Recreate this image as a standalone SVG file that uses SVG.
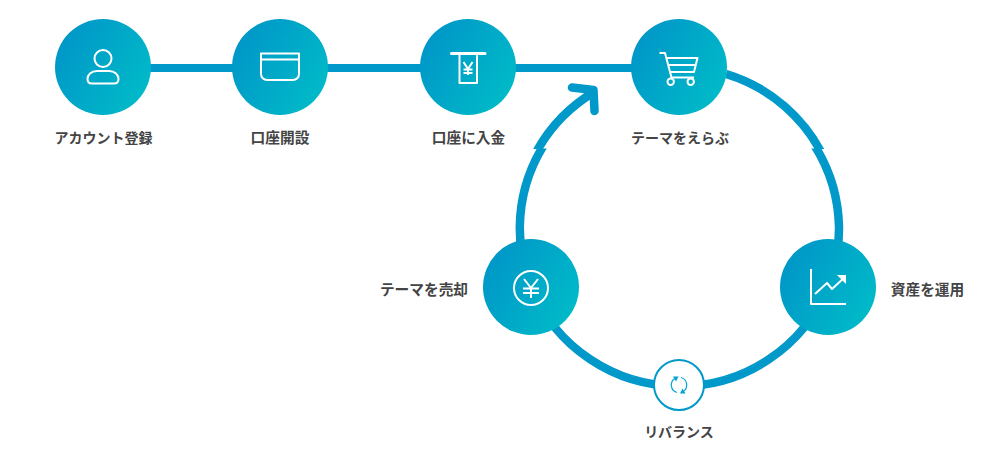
<svg xmlns="http://www.w3.org/2000/svg" width="984" height="450" viewBox="0 0 984 450">
<style>
.c{fill:url(#g)}
.i{fill:none;stroke:#fff;stroke-width:2;stroke-linejoin:round}
.l{fill:none;stroke:#0099c9;stroke-width:8.500}
.t{font-family:"Noto Sans CJK JP","Noto Sans",sans-serif;font-weight:700;font-size:14px;fill:#444;text-anchor:middle}
.w{font-size:14.700px}
</style>
<defs>
<linearGradient id="g" x1="0.08" y1="0.25" x2="0.92" y2="0.75"><stop offset="0" stop-color="#0098c8"/><stop offset="1" stop-color="#00b9c8"/></linearGradient>
<clipPath id="above"><rect x="500" y="60" width="360" height="89"/></clipPath>
<clipPath id="below"><rect x="500" y="148.500" width="360" height="160"/></clipPath>
</defs>
<rect width="984" height="450" fill="#fff"/>
<g id="connectors">
<path d="M103 68H679" fill="none" stroke="#0099c9" stroke-width="8"/>
<path class="l" clip-path="url(#above)" d="M726 74A159.700 159.700 0 0 1 825 160"/>
<path class="l" clip-path="url(#below)" d="M809.500 138A159.700 159.700 0 0 1 839 226.500A159.700 159.700 0 0 1 828 287"/>
<path class="l" d="M828 287A159.700 159.700 0 0 1 679.500 386.200A159.700 159.700 0 0 1 531 287"/>
<path class="l" clip-path="url(#below)" d="M531 287A159.700 159.700 0 0 1 519.800 226.500A159.700 159.700 0 0 1 548.500 138"/>
<path class="l" clip-path="url(#above)" d="M530 165A159.700 159.700 0 0 1 595 91.500"/>
<path d="M572 87.500L593.500 90L594.500 111" fill="none" stroke="#0099c9" stroke-width="8.500" stroke-linecap="round" stroke-linejoin="round"/>
</g>
<g id="n1"><circle class="c" cx="103" cy="67" r="48"/>
<circle class="i" cx="103" cy="58.500" r="8.500"/><path class="i" d="M97 71H109C115 71 118.500 75 118.500 79C118.500 82 116.500 83.500 114 83.500H92C89.500 83.500 87.500 82 87.500 79C87.500 75 91 71 97 71Z"/>
<text class="t" x="103.500" y="143">アカウント登録</text></g>
<g id="n2"><circle class="c" cx="280" cy="67" r="48"/>
<path class="i" d="M261 53.500H299V74A6 6 0 0 1 293 80H267A6 6 0 0 1 261 74Z"/><path class="i" d="M261 59.500H299"/>
<text class="t w" x="280" y="143">口座開設</text></g>
<g id="n3"><circle class="c" cx="468" cy="67" r="48"/>
<path d="M451.500 53.500H485" stroke="#fff" stroke-width="3" stroke-linecap="round" fill="none"/>
<path class="i" d="M459.500 54V83H477V54"/>
<path class="i" d="M463.500 62L468 69L472.500 62M468 69V75M463.500 69.500H472.500M463.500 73H472.500"/>
<text class="t w" x="468.500" y="143">口座に入金</text></g>
<g id="n4"><circle class="c" cx="679" cy="67" r="48"/>
<path class="i" d="M659.500 53H665L671.500 77.500H694M666 58H697.500L694 72H670M668 65H696"/>
<circle class="i" cx="670.700" cy="81.700" r="3.200"/><circle class="i" cx="690.700" cy="81.700" r="3.200"/>
<text class="t" x="680" y="143">テーマをえらぶ</text></g>
<g id="n5"><circle class="c" cx="828" cy="287" r="48"/>
<path class="i" d="M811 269V304H846"/><path class="i" d="M815 294L827 283L832 289L845 277"/><path d="M837 275H846V284Z" fill="#fff"/>
<text class="t w" x="927.500" y="295">資産を運用</text></g>
<g id="n6"><circle class="c" cx="531" cy="287" r="48"/>
<circle class="i" cx="531" cy="288" r="17"/>
<path class="i" d="M524 279L531 288L538 279M531 288V298M523 288.500H539M523 293H539"/>
<text class="t w" x="424" y="295">テーマを売却</text></g>
<g id="n7"><circle cx="679" cy="385" r="25" fill="#fff" stroke="#0099c9" stroke-width="2"/>
<path d="M677 392.500A7.700 7.700 0 0 1 675 378.500M681 377.500A7.700 7.700 0 0 1 683 391.500" fill="none" stroke="#00a6d0" stroke-width="1.200"/>
<path d="M673 376.500H678.500L676 381.500ZM680 393.500H685.500L682.500 388.500Z" fill="#00a6d0"/>
<text class="t" x="679" y="437">リバランス</text></g>
</svg>
